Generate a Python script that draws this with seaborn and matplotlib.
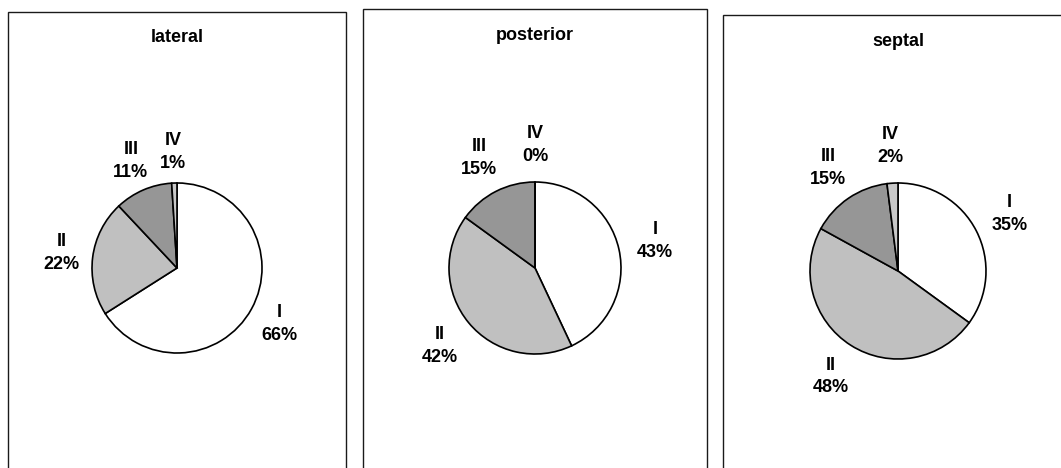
import matplotlib
matplotlib.use("Agg")
import matplotlib.pyplot as plt
from matplotlib.patches import Rectangle
import seaborn as sns

sns.set_theme(style="white")
plt.rcParams["font.family"] = ["Liberation Sans", "DejaVu Sans"]

# Share of each class per wall segment (percent)
classes = ["I", "II", "III", "IV"]
lateral = [66, 22, 11, 1]
posterior = [43, 42, 15, 0]
septal = [35, 48, 15, 2]
panel_titles = ["lateral", "posterior", "septal"]
slice_colors = ["#ffffff", "#c0c0c0", "#969696", "#c8c8c8"]

W, H = 1061, 468
fig = plt.figure(figsize=(W / 100, H / 100), dpi=100)
fig.patch.set_facecolor("white")

# panel frames (pixel coords from top-left): left, top, right
frames = [(8, 12, 346), (363, 9, 707), (723, 15, 1075)]
# pie centres and radius in pixels, plus label distance
pies = [(177, 268, 85, 1.37), (535, 268, 86, 1.43), (898, 271, 88, 1.42)]
title_y = [38, 36, 42]

for left, top, right in frames:
    fig.patches.append(Rectangle((left / W, -0.05), (right - left) / W,
                                 (H - top) / H + 0.05, transform=fig.transFigure,
                                 fill=False, edgecolor="#1a1a1a", linewidth=1.0))

for (cx, cy, r, ld), name, values, ty in zip(pies, panel_titles,
                                             [lateral, posterior, septal], title_y):
    half = 2 * r  # axes spans [-2, 2] data units
    ax = fig.add_axes([(cx - half) / W, (H - cy - half) / H, 2 * half / W, 2 * half / H])
    labels = [f"{c}\n{v}%" for c, v in zip(classes, values)]
    wedges, texts = ax.pie(values, labels=labels, colors=slice_colors,
                           startangle=90, counterclock=False, labeldistance=ld,
                           wedgeprops=dict(edgecolor="black", linewidth=1.2),
                           textprops=dict(fontsize=13, fontweight="bold",
                                          color="black", linespacing=1.45))
    for t in texts:
        t.set_ha("center")
        t.set_va("center")
    ax.set_xlim(-2, 2)
    ax.set_ylim(-2, 2)
    ax.set_aspect("equal")
    ax.axis("off")
    fig.text(cx / W, 1 - ty / H, name, ha="center", va="center",
             fontsize=13, fontweight="bold", color="black")

fig.savefig("out.png", dpi=100, facecolor="white")
